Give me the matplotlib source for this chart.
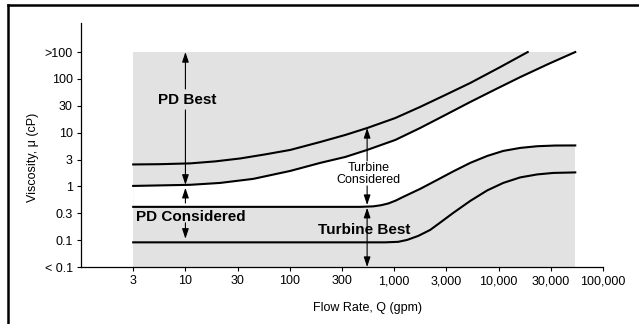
import numpy as np
import matplotlib
matplotlib.use('Agg')
import matplotlib.pyplot as plt
from matplotlib.lines import Line2D

plt.rcParams['font.family'] = ['Liberation Sans', 'DejaVu Sans']

# the chart spaces 3, 10, 30 ... evenly, so "3" sits at 10**0.5 etc.
x_ticks = 10 ** np.arange(0.5, 5.01, 0.5)
x_labels = ['3', '10', '30', '100', '300', '1,000', '3,000', '10,000', '30,000', '100,000']
y_ticks = 10 ** np.arange(-1.5, 2.51, 0.5)
y_labels = ['< 0.1', '0.1', '0.3', '1', '3', '10', '30', '100', '>100']

# boundary curves, flow rate (gpm) vs viscosity (cP)
q_upper_hi = [3.16, 5.74, 11.1, 19.3, 33.5, 58.1, 101, 196, 340, 551, 1023,
              1770, 3083, 5350, 10360, 19000]
mu_upper_hi = [2.56, 2.59, 2.68, 2.92, 3.31, 3.94, 4.77, 6.71, 9.06, 12.2, 18.7,
               30.1, 50.2, 84, 166, 316]

q_upper_lo = [3.16, 11.1, 21.5, 44.6, 101, 196, 340, 551, 1023, 1770, 3083,
              5350, 9270, 16100, 29850, 54200]
mu_upper_lo = [1.02, 1.07, 1.16, 1.38, 1.94, 2.74, 3.53, 4.77, 7.31, 12.2, 21.3,
               37.2, 63.6, 108, 189, 316]

q_lower_hi = [3.16, 472, 630, 750, 877, 1030, 1219, 1774, 2580, 3673, 5350,
              7787, 11070, 16100, 23440, 34800, 54200]
mu_lower_hi = [0.416, 0.416, 0.425, 0.447, 0.481, 0.543, 0.638, 0.90, 1.32, 1.90,
               2.74, 3.69, 4.57, 5.20, 5.59, 5.76, 5.78]

q_lower_lo = [3.16, 820, 1091, 1331, 1700, 2211, 2818, 3673, 5350, 7787, 11070,
              16100, 23440, 33340, 54200]
mu_lower_lo = [0.091, 0.091, 0.093, 0.101, 0.12, 0.155, 0.219, 0.321, 0.537,
               0.843, 1.16, 1.47, 1.67, 1.78, 1.82]

# shaded block
q_block = [3.16, 54200]
mu_block = [10 ** -1.5, 316]

gray = '#e2e2e2'

fig = plt.figure(figsize=(6.39, 3.24), dpi=100)
ax = fig.add_axes([0.1268, 0.1759, 0.8169, 0.7531])
ax.set_xscale('log')
ax.set_yscale('log')
ax.set_xlim(1, 1e5)
ax.set_ylim(10 ** -1.5, 10 ** 3.04)

ax.fill_between(q_block, mu_block[0], mu_block[1], color=gray, lw=0, zorder=1)
ax.fill(np.concatenate([q_upper_lo, q_lower_hi[::-1]]),
        np.concatenate([mu_upper_lo, mu_lower_hi[::-1]]),
        color='white', lw=0, zorder=2)

for q, mu in [(q_upper_hi, mu_upper_hi), (q_upper_lo, mu_upper_lo),
              (q_lower_hi, mu_lower_hi), (q_lower_lo, mu_lower_lo)]:
    ax.plot(q, mu, color='black', lw=1.5, zorder=3, solid_joinstyle='round')

def arrow(x, y0, y1, style='-|>'):
    ax.annotate('', xy=(x, y1), xytext=(x, y0),
                arrowprops=dict(arrowstyle=style + ',head_length=0.6,head_width=0.2',
                                color='black', lw=0.8, mutation_scale=10,
                                shrinkA=0, shrinkB=0), zorder=4)

# PD arrows at 10 gpm
arrow(10, 64.9, 316)
arrow(10, 26.4, 1.07)
arrow(10, 0.49, 0.94)
arrow(10, 0.21, 0.106)
# turbine arrows at ~550 gpm
arrow(550, 2.98, 12.2)
arrow(550, 1.02, 0.45)
arrow(550, 10 ** -1.5, 0.40, '<|-|>')

ax.text(10.5, 40.5, 'PD Best', ha='center', va='center', fontsize=11,
        fontweight='bold', zorder=5)
ax.text(3.38, 0.271, 'PD Considered', ha='left', va='center', fontsize=11,
        fontweight='bold', zorder=5)
ax.text(516, 0.156, 'Turbine Best', ha='center', va='center', fontsize=11,
        fontweight='bold', zorder=5)
ax.text(564, 1.71, 'Turbine\nConsidered', ha='center', va='center', fontsize=9,
        linespacing=0.95, zorder=5)

ax.set_xticks(x_ticks)
ax.set_xticklabels(x_labels)
ax.set_yticks(y_ticks)
ax.set_yticklabels(y_labels)
ax.minorticks_off()
ax.tick_params(direction='out', length=3, width=0.8, labelsize=9, pad=3)

for s in ['top', 'right']:
    ax.spines[s].set_visible(False)
for s in ['left', 'bottom']:
    ax.spines[s].set_linewidth(0.9)

ax.set_xlabel('Flow Rate, Q (gpm)', fontsize=9, va='center')
ax.xaxis.set_label_coords(0.548, -0.168)
ax.set_ylabel('Viscosity, \u03bc (cP)', fontsize=9, va='center')
ax.yaxis.set_label_coords(-0.092, 0.451)

# partial frame: top and left edges
fig.add_artist(Line2D([0.0125, 1], [0.9846, 0.9846], color='black', lw=1.8,
                      transform=fig.transFigure))
fig.add_artist(Line2D([0.0125, 0.0125], [0, 0.9846], color='black', lw=1.8,
                      transform=fig.transFigure))

fig.savefig('out.png', dpi=100)
